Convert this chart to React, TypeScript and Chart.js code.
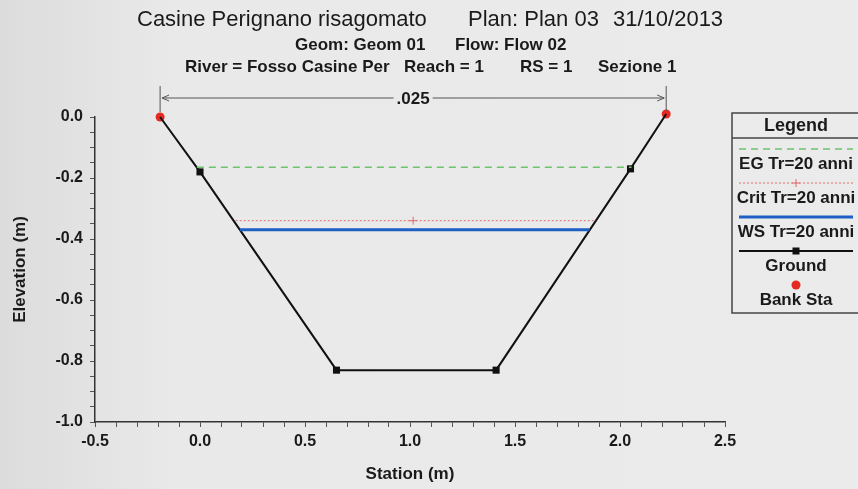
import { useEffect, useRef } from "react";
import { Chart, registerables } from "chart.js";

Chart.register(...registerables);

const FONT = '"Liberation Sans", Arial, sans-serif';

// Heading lines (each line is a row of separately spaced fields)
const titleLine1 = ["Casine Perignano risagomato", "Plan: Plan 03", "31/10/2013"];
const titleLine2 = ["Geom: Geom 01", "Flow: Flow 02"];
const titleLine3 = ["River = Fosso Casine Per", "Reach = 1", "RS = 1", "Sezione 1"];

// Cross-section geometry (station m, elevation m)
const groundStation = [-0.19, 0.0, 0.65, 1.41, 2.05, 2.22];
const groundElevation = [0.0, -0.18, -0.83, -0.83, -0.17, 0.01];
const bankStation = [-0.19, 2.22];
const bankElevation = [0.0, 0.01];

// Water profiles for Tr = 20 anni
const egStation = [-0.015, 2.055];
const egElevation = [-0.165, -0.165];
const critStation = [0.17, 1.015, 1.885];
const critElevation = [-0.34, -0.34, -0.34];
const wsStation = [0.19, 1.855];
const wsElevation = [-0.37, -0.37];

// Manning's n between the bank stations
const manningN = ".025";

// Axes
const stationRange = [-0.5, 2.5];
const elevationRange = [-1.0, 0.0];
const stationMinorStep = 0.1;
const stationMajorStep = 0.5;
const elevationMinorStep = 0.05;
const elevationMajorStep = 0.2;
const stationTitle = "Station (m)";
const elevationTitle = "Elevation (m)";
const legendTitle = "Legend";

const seriesNames = ["EG Tr=20 anni", "Crit Tr=20 anni", "WS Tr=20 anni", "Ground", "Bank Sta"];

const toPoints = (xs: number[], ys: number[]) => xs.map((x, i) => ({ x, y: ys[i] }));
const isMultiple = (v: number, step: number) => Math.abs(v / step - Math.round(v / step)) < 1e-6;

const COLORS = {
  eg: "#6cc46c",
  crit: "#e06a6a",
  ws: "#1d5fc4",
  ground: "#111111",
  bank: "#e52a22",
  text: "#1a1a1a",
  axis: "#333333",
};

const paperPlugin = {
  id: "paper",
  beforeDraw(chart: any) {
    const { ctx, width, height } = chart;
    ctx.save();
    const g = ctx.createLinearGradient(0, 0, width, 0);
    g.addColorStop(0, "#dcdcdc");
    g.addColorStop(0.2, "#e9e9e9");
    g.addColorStop(1, "#ebebeb");
    ctx.fillStyle = g;
    ctx.fillRect(0, 0, width, height);
    ctx.restore();
  },
};

const headingPlugin = {
  id: "heading",
  afterDraw(chart: any) {
    const { ctx } = chart;
    const rows = [
      { parts: titleLine1, xs: [137, 468, 613], y: 20, font: `22px ${FONT}` },
      { parts: titleLine2, xs: [295, 455], y: 45, font: `bold 17px ${FONT}` },
      { parts: titleLine3, xs: [185, 404, 520, 598], y: 67, font: `bold 17px ${FONT}` },
    ];
    ctx.save();
    ctx.fillStyle = COLORS.text;
    ctx.textBaseline = "middle";
    ctx.textAlign = "left";
    rows.forEach((r) => {
      ctx.font = r.font;
      r.parts.forEach((p, i) => ctx.fillText(p, r.xs[i], r.y));
    });
    ctx.restore();
  },
};

// Dimension line showing Manning's n across the channel, between bank stations
const manningPlugin = {
  id: "manning",
  afterDraw(chart: any) {
    const { ctx, chartArea } = chart;
    const xs = chart.scales.x;
    const x0 = xs.getPixelForValue(bankStation[0]);
    const x1 = xs.getPixelForValue(bankStation[bankStation.length - 1]);
    const y = chartArea.top - 19;
    ctx.save();
    ctx.strokeStyle = "#555";
    ctx.lineWidth = 1;
    ctx.beginPath();
    ctx.moveTo(x0, y - 12);
    ctx.lineTo(x0, chartArea.top - 5);
    ctx.moveTo(x1, y - 12);
    ctx.lineTo(x1, chartArea.top - 6);
    ctx.stroke();
    ctx.font = `bold 17px ${FONT}`;
    const mid = (x0 + x1) / 2;
    const tw = ctx.measureText(manningN).width;
    ctx.beginPath();
    ctx.moveTo(x0 + 2, y);
    ctx.lineTo(mid - tw / 2 - 3, y);
    ctx.moveTo(mid + tw / 2 + 3, y);
    ctx.lineTo(x1 - 2, y);
    // arrow heads
    ctx.moveTo(x0 + 9, y - 3);
    ctx.lineTo(x0 + 2, y);
    ctx.lineTo(x0 + 9, y + 3);
    ctx.moveTo(x1 - 9, y - 3);
    ctx.lineTo(x1 - 2, y);
    ctx.lineTo(x1 - 9, y + 3);
    ctx.stroke();
    ctx.fillStyle = COLORS.text;
    ctx.textAlign = "center";
    ctx.textBaseline = "middle";
    ctx.fillText(manningN, mid, y + 1);
    ctx.restore();
  },
};

const legendPlugin = {
  id: "hecLegend",
  afterDraw(chart: any) {
    const { ctx } = chart;
    const left = 732;
    const top = 113;
    const w = 130;
    const h = 200;
    const header = 25;
    const cx = left + w / 2 - 1;
    ctx.save();
    ctx.strokeStyle = "#444";
    ctx.lineWidth = 1.5;
    ctx.strokeRect(left, top, w, h);
    ctx.beginPath();
    ctx.moveTo(left, top + header);
    ctx.lineTo(left + w, top + header);
    ctx.stroke();
    ctx.fillStyle = COLORS.text;
    ctx.textBaseline = "middle";
    ctx.textAlign = "center";
    ctx.font = `bold 18px ${FONT}`;
    ctx.fillText(legendTitle, cx, top + header / 2 + 1);

    const pitch = 34;
    const half = 57;
    seriesNames.forEach((name, i) => {
      const base = top + header + pitch * i;
      const ly = base + 11;
      const ty = base + 26;
      ctx.save();
      ctx.beginPath();
      if (i === 0) {
        ctx.strokeStyle = COLORS.eg;
        ctx.lineWidth = 1.5;
        ctx.setLineDash([7, 5]);
        ctx.moveTo(cx - half, ly);
        ctx.lineTo(cx + half, ly);
        ctx.stroke();
      } else if (i === 1) {
        ctx.strokeStyle = COLORS.crit;
        ctx.lineWidth = 1;
        ctx.setLineDash([2, 2]);
        ctx.moveTo(cx - half, ly);
        ctx.lineTo(cx + half, ly);
        ctx.stroke();
        ctx.setLineDash([]);
        ctx.beginPath();
        ctx.moveTo(cx - 4, ly);
        ctx.lineTo(cx + 4, ly);
        ctx.moveTo(cx, ly - 4);
        ctx.lineTo(cx, ly + 4);
        ctx.stroke();
      } else if (i === 2) {
        ctx.strokeStyle = COLORS.ws;
        ctx.lineWidth = 3;
        ctx.moveTo(cx - half, ly);
        ctx.lineTo(cx + half, ly);
        ctx.stroke();
      } else if (i === 3) {
        ctx.strokeStyle = COLORS.ground;
        ctx.lineWidth = 2;
        ctx.moveTo(cx - half, ly);
        ctx.lineTo(cx + half, ly);
        ctx.stroke();
        ctx.fillStyle = COLORS.ground;
        ctx.fillRect(cx - 3.5, ly - 3.5, 7, 7);
      } else {
        ctx.fillStyle = COLORS.bank;
        ctx.arc(cx, ly, 4.5, 0, Math.PI * 2);
        ctx.fill();
      }
      ctx.restore();
      ctx.font = `bold 17px ${FONT}`;
      ctx.textAlign = "left";
      const tw = ctx.measureText(name).width;
      ctx.fillText(name, Math.max(left + 1, cx - tw / 2), ty);
    });
    ctx.restore();
  },
};

export default function App() {
  const canvasRef = useRef<HTMLCanvasElement | null>(null);

  useEffect(() => {
    document.body.style.margin = "0";
    const canvas = canvasRef.current;
    if (!canvas) return;

    const chart = new Chart(canvas, {
      type: "scatter",
      data: {
        datasets: [
          {
            label: seriesNames[0],
            data: toPoints(egStation, egElevation),
            showLine: true,
            borderColor: COLORS.eg,
            borderWidth: 1.5,
            borderDash: [7, 5],
            pointRadius: 0,
            clip: false,
          },
          {
            label: seriesNames[1],
            data: toPoints(critStation, critElevation),
            showLine: true,
            borderColor: COLORS.crit,
            borderWidth: 1,
            borderDash: [2, 2],
            pointStyle: "cross",
            pointRadius: [0, 4, 0],
            pointBorderColor: COLORS.crit,
            pointBorderWidth: 1,
            clip: false,
          },
          {
            label: seriesNames[2],
            data: toPoints(wsStation, wsElevation),
            showLine: true,
            borderColor: COLORS.ws,
            borderWidth: 3,
            pointRadius: 0,
            clip: false,
          },
          {
            label: seriesNames[3],
            data: toPoints(groundStation, groundElevation),
            showLine: true,
            borderColor: COLORS.ground,
            borderWidth: 2,
            pointStyle: "rect",
            pointRadius: [0, 5, 5, 5, 5, 0],
            pointBackgroundColor: COLORS.ground,
            pointBorderColor: COLORS.ground,
            pointBorderWidth: 0,
            clip: false,
          },
          {
            label: seriesNames[4],
            data: toPoints(bankStation, bankElevation),
            showLine: false,
            pointStyle: "circle",
            pointRadius: 4.5,
            pointBackgroundColor: COLORS.bank,
            pointBorderColor: COLORS.bank,
            pointBorderWidth: 0,
            clip: false,
          },
        ],
      },
      options: {
        responsive: false,
        animation: false,
        devicePixelRatio: 1,
        layout: { padding: { left: 0, top: 117, right: 133, bottom: 0 } },
        plugins: {
          legend: { display: false },
          title: { display: false },
          tooltip: { enabled: false },
        },
        scales: {
          x: {
            type: "linear",
            min: stationRange[0],
            max: stationRange[1],
            afterFit: (s: any) => {
              s.height = 67;
            },
            border: { display: true, color: COLORS.axis, width: 1.5 },
            grid: {
              drawOnChartArea: false,
              drawTicks: true,
              tickLength: 5,
              color: "#555",
              lineWidth: 1,
            },
            ticks: {
              stepSize: stationMinorStep,
              autoSkip: false,
              maxRotation: 0,
              padding: 5,
              color: COLORS.text,
              font: { family: FONT, size: 16, weight: "bold" },
              callback: (v: any) => (isMultiple(Number(v), stationMajorStep) ? Number(v).toFixed(1) : ""),
            },
            title: {
              display: true,
              text: stationTitle,
              color: COLORS.text,
              font: { family: FONT, size: 17, weight: "bold" },
              padding: { top: 0, bottom: 4 },
            },
          },
          y: {
            type: "linear",
            min: elevationRange[0],
            max: elevationRange[1],
            afterFit: (s: any) => {
              s.width = 95;
            },
            border: { display: true, color: COLORS.axis, width: 1.5 },
            grid: {
              drawOnChartArea: false,
              drawTicks: true,
              tickLength: 5,
              color: "#555",
              lineWidth: 1,
            },
            ticks: {
              stepSize: elevationMinorStep,
              autoSkip: false,
              padding: 7,
              color: COLORS.text,
              font: { family: FONT, size: 16, weight: "bold" },
              callback: (v: any) => (isMultiple(Number(v), elevationMajorStep) ? Number(v).toFixed(1) : ""),
            },
            title: {
              display: true,
              text: elevationTitle,
              color: COLORS.text,
              font: { family: FONT, size: 17, weight: "bold" },
              padding: { top: 10, bottom: 0 },
            },
          },
        },
      },
      plugins: [paperPlugin, headingPlugin, manningPlugin, legendPlugin],
    });

    return () => chart.destroy();
  }, []);

  return (
    <canvas
      ref={canvasRef}
      width={858}
      height={489}
      style={{ display: "block", width: 858, height: 489 }}
    />
  );
}
